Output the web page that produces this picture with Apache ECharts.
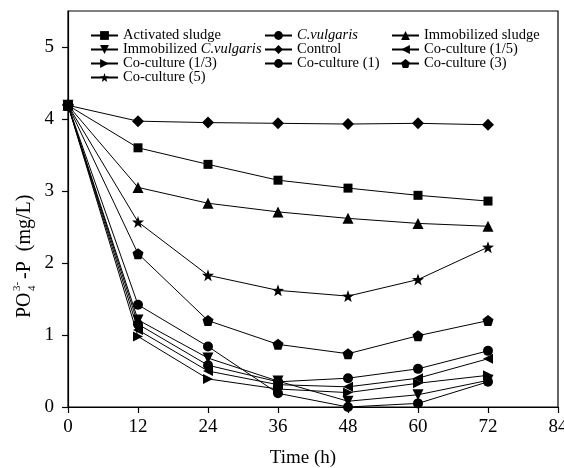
<!DOCTYPE html>
<html>
<head>
<meta charset="utf-8">
<script src="https://cdn.jsdelivr.net/npm/echarts@6/dist/echarts.min.js"></script>
<style>
  html, body { margin: 0; padding: 0; background: #fff; }
  #chart { width: 564px; height: 468px; }
</style>
</head>
<body>
<div id="chart"></div>
<script>
// Sampling times (h)
const hours = [0, 12, 24, 36, 48, 60, 72];
const xTicks = [0, 12, 24, 36, 48, 60, 72, 84];
const yTicks = [0, 1, 2, 3, 4, 5];

// PO4(3-)-P concentration (mg/L) per treatment
const activatedSludge     = [4.19, 3.60, 3.37, 3.15, 3.04, 2.94, 2.86];
const cVulgaris           = [4.19, 1.42, 0.84, 0.19, 0.00, 0.05, 0.35];
const immobilizedSludge   = [4.19, 3.05, 2.83, 2.71, 2.62, 2.55, 2.51];
const immobilizedCV       = [4.19, 1.21, 0.68, 0.36, 0.08, 0.17, 0.37];
const control             = [4.19, 3.97, 3.95, 3.94, 3.93, 3.94, 3.92];
const coCulture1_5        = [4.19, 1.07, 0.50, 0.31, 0.28, 0.40, 0.67];
const coCulture1_3        = [4.19, 0.98, 0.39, 0.25, 0.20, 0.33, 0.44];
const coCulture1          = [4.19, 1.15, 0.58, 0.35, 0.40, 0.53, 0.78];
const coCulture3          = [4.19, 2.13, 1.20, 0.87, 0.74, 0.99, 1.20];
const coCulture5          = [4.19, 2.57, 1.83, 1.62, 1.54, 1.77, 2.22];

const SYM = {
  down:  'path://M0,0 L10,0 L5,9 Z',
  left:  'path://M10,0 L10,10 L0,5 Z',
  right: 'path://M0,0 L0,10 L10,5 Z',
  pent:  'path://M5,0 L10,3.8 L8.1,10 L1.9,10 L0,3.8 Z',
  star:  'path://M5,0 L6.2,3.6 L10,3.7 L7,6 L8.1,9.7 L5,7.5 L1.9,9.7 L3,6 L0,3.7 L3.8,3.6 Z'
};

const seriesDefs = [
  { name: 'Activated sludge', data: activatedSludge, symbol: 'rect', size: 9 },
  { name: 'C.vulgaris', data: cVulgaris, symbol: 'circle', size: 10 },
  { name: 'Immobilized sludge', data: immobilizedSludge, symbol: 'triangle', size: 11 },
  { name: 'Immobilized C.vulgaris', data: immobilizedCV, symbol: SYM.down, size: 11 },
  { name: 'Control', data: control, symbol: 'diamond', size: 12 },
  { name: 'Co-culture (1/5)', data: coCulture1_5, symbol: SYM.left, size: 10 },
  { name: 'Co-culture (1/3)', data: coCulture1_3, symbol: SYM.right, size: 10 },
  { name: 'Co-culture (1)', data: coCulture1, symbol: 'circle', size: 10 },
  { name: 'Co-culture (3)', data: coCulture3, symbol: SYM.pent, size: 11 },
  { name: 'Co-culture (5)', data: coCulture5, symbol: SYM.star, size: 12 }
];

const FONT = 'Liberation Serif';

const series = seriesDefs.map(d => ({
  name: d.name,
  type: 'line',
  data: hours.map((h, i) => [h, d.data[i]]),
  symbol: d.symbol,
  symbolSize: d.size,
  showAllSymbol: true,
  lineStyle: { color: '#000', width: 1 },
  itemStyle: { color: '#000', borderWidth: 0 },
  emphasis: { disabled: true },
  animation: false
}));

const legendText = {
  fontFamily: FONT, fontSize: 14.5, color: '#000', lineHeight: 13,
  rich: { i: { fontFamily: FONT, fontSize: 14.5, fontStyle: 'italic', color: '#000', lineHeight: 13 } }
};
function legendFormatter(name) {
  return name.replace('C.vulgaris', '{i|C.vulgaris}');
}
function makeLegend(names, left) {
  return {
    data: names,
    orient: 'vertical',
    left: left,
    top: 28,
    itemWidth: 27,
    itemHeight: 11,
    itemGap: -1,
    padding: 0,
    textStyle: legendText,
    formatter: legendFormatter,
    selectedMode: false
  };
}

const chart = echarts.init(document.getElementById('chart'), null, { renderer: 'canvas' });
chart.setOption({
  animation: false,
  backgroundColor: '#fff',
  grid: {
    left: 68, right: 6, top: 11, bottom: 61,
    outerBoundsMode: 'none',
    show: true, borderColor: '#000', borderWidth: 1.2
  },
  legend: [
    makeLegend(['Activated sludge', 'Immobilized C.vulgaris', 'Co-culture (1/3)', 'Co-culture (5)'], 90),
    makeLegend(['C.vulgaris', 'Control', 'Co-culture (1)'], 264),
    makeLegend(['Immobilized sludge', 'Co-culture (1/5)', 'Co-culture (3)'], 391)
  ],
  xAxis: {
    type: 'value',
    min: xTicks[0],
    max: xTicks[xTicks.length - 1],
    interval: 12,
    name: 'Time (h)',
    nameLocation: 'middle',
    nameGap: 42,
    nameTextStyle: { fontFamily: FONT, fontSize: 19, color: '#000', padding: [0, 20, 0, 0] },
    axisLine: { lineStyle: { color: '#000', width: 1.2 } },
    axisTick: { show: true, length: 6, lineStyle: { color: '#000', width: 1.2 } },
    axisLabel: { fontFamily: FONT, fontSize: 19, color: '#000', margin: 11, showMaxLabel: true },
    splitLine: { show: false }
  },
  yAxis: {
    type: 'value',
    min: yTicks[0],
    max: 5.5,
    interval: 1,
    axisLine: { show: true, lineStyle: { color: '#000', width: 1.2 } },
    axisTick: { show: true, length: 6, lineStyle: { color: '#000', width: 1.2 } },
    axisLabel: { fontFamily: FONT, fontSize: 19, color: '#000', margin: 14, showMaxLabel: false },
    splitLine: { show: false }
  },
  graphic: [{
    type: 'group',
    x: 25,
    y: 250,
    rotation: Math.PI / 2,
    children: [
      { type: 'text', x: -68, y: 0, style: { text: 'PO', font: '20px "Liberation Serif"', fill: '#000', verticalAlign: 'middle', align: 'left' } },
      { type: 'text', x: -41, y: -8, style: { text: '3-', font: '11px "Liberation Serif"', fill: '#000', verticalAlign: 'middle', align: 'left' } },
      { type: 'text', x: -41, y: 7, style: { text: '4', font: '11px "Liberation Serif"', fill: '#000', verticalAlign: 'middle', align: 'left' } },
      { type: 'text', x: -29, y: 0, style: { text: '-P  (mg/L)', font: '20px "Liberation Serif"', fill: '#000', verticalAlign: 'middle', align: 'left' } }
    ]
  }],
  series: series
});
</script>
</body>
</html>
